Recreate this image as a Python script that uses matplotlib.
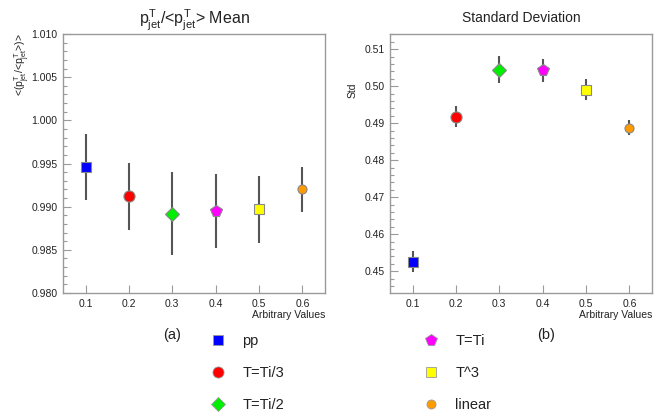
"""Two ROOT-style panels: mean and std of pT/<pT> versus arbitrary values."""
import matplotlib; matplotlib.use("Agg")
import matplotlib.pyplot as plt
from matplotlib.lines import Line2D
from matplotlib.ticker import MultipleLocator, FormatStrFormatter

plt.rcParams["font.family"] = ["Liberation Sans", "DejaVu Sans"]
plt.rcParams["mathtext.fontset"] = "custom"
plt.rcParams["mathtext.rm"] = "Liberation Sans"
plt.rcParams["mathtext.it"] = "Liberation Sans"
plt.rcParams["mathtext.bf"] = "Liberation Sans:bold"

# ---- data ----
labels  = ["pp", "T=Ti/3", "T=Ti/2", "T=Ti", "T^3", "linear"]
xvals   = [0.1, 0.2, 0.3, 0.4, 0.5, 0.6]
mean    = [0.9946, 0.9912, 0.9892, 0.9895, 0.9897, 0.9920]
mean_err = [0.0038, 0.0039, 0.0048, 0.0043, 0.0039, 0.0026]
std     = [0.4526, 0.4918, 0.5045, 0.5043, 0.4991, 0.4888]
std_err = [0.0029, 0.0029, 0.0036, 0.0031, 0.0029, 0.0020]

colors  = ["#0000ff", "#ff0000", "#00ee00", "#ff00ff", "#ffff00", "#ff9a00"]
markers = ["s", "o", "D", "p", "s", "o"]
msizes  = [7.5, 8.0, 7.0, 8.5, 7.5, 6.5]

TXT = "#222222"; FRAME = "#9a9a9a"; ERRC = "#555555"

fig = plt.figure(figsize=(6.65, 4.18), dpi=100)
W, H = 665.0, 418.0
def box(x0, y0, x1, y1):  # pixel box -> figure fraction
    return [x0 / W, 1 - y1 / H, (x1 - x0) / W, (y1 - y0) / H]

axL = fig.add_axes(box(63, 34, 325, 293))
axR = fig.add_axes(box(390, 34, 652, 293))

def style(ax, ylim, major, minor, fmt):
    ax.set_xlim(0.048, 0.652); ax.set_ylim(*ylim)
    ax.xaxis.set_major_locator(MultipleLocator(0.1))
    ax.xaxis.set_major_formatter(FormatStrFormatter("%.1f"))
    ax.yaxis.set_major_locator(MultipleLocator(major))
    ax.yaxis.set_minor_locator(MultipleLocator(minor))
    ax.yaxis.set_major_formatter(FormatStrFormatter(fmt))
    ax.tick_params(direction="in", colors=FRAME, labelcolor=TXT, labelsize=7.5,
                   top=False, right=False, length=6, width=0.8, pad=4)
    ax.tick_params(which="minor", direction="in", length=3, width=0.8, colors=FRAME, left=True)
    ax.tick_params(axis="x", which="minor", bottom=False)
    for s in ax.spines.values():
        s.set_color(FRAME); s.set_linewidth(1.0)
    ax.text(1.0, -0.085, "Arbitrary Values", transform=ax.transAxes, ha="right", va="center",
            fontsize=7.5, color=TXT)

def draw(ax, y, yerr):
    for x, v, e, c, m, ms in zip(xvals, y, yerr, colors, markers, msizes):
        ax.errorbar([x], [v], yerr=[e], fmt="none", ecolor=ERRC, elinewidth=1.5, capsize=0, zorder=2)
        ax.plot([x], [v], marker=m, ms=ms, color=c, mec="#888888", mew=0.8, ls="none", zorder=3)

draw(axL, mean, mean_err)
draw(axR, std, std_err)
style(axL, (0.980, 1.010), 0.005, 0.001, "%.3f")
style(axR, (0.4441, 0.5141), 0.01, 0.002, "%.2f")

axL.set_title(r"$p^{T}_{jet}/$<$p^{T}_{jet}$> Mean", fontsize=11.5, color=TXT, pad=7)
axR.set_title("Standard Deviation", fontsize=10, color=TXT, pad=9)

fig.text(22 / W, 1 - 33 / H, r"<($p^{T}_{jet}/$<$p^{T}_{jet}$>)>", rotation=90, ha="center", va="top",
         fontsize=7.5, color=TXT)
fig.text(353 / W, 1 - 90 / H, "Std", rotation=90, ha="center", va="center", fontsize=7.5, color=TXT)

fig.text(172 / W, 1 - 335 / H, "(a)", ha="center", va="center", fontsize=10.5, color=TXT)
fig.text(546 / W, 1 - 335 / H, "(b)", ha="center", va="center", fontsize=10.5, color=TXT)

handles = [Line2D([], [], marker=m, color=c, mec="#999999", mew=0.6, ls="none", ms=ms)
           for c, m, ms in zip(colors, markers, msizes)]
for i, xpx in enumerate([211, 424]):
    leg = fig.legend(handles[3 * i:3 * i + 3], labels[3 * i:3 * i + 3], loc="upper left",
                     bbox_to_anchor=(xpx / W, 1 - 334 / H), frameon=False, fontsize=10.5,
                     handlelength=1.0, handletextpad=1.15, labelspacing=1.25, borderpad=0,
                     borderaxespad=0)
    for t in leg.get_texts():
        t.set_color(TXT)

fig.savefig("out.png", dpi=100)
